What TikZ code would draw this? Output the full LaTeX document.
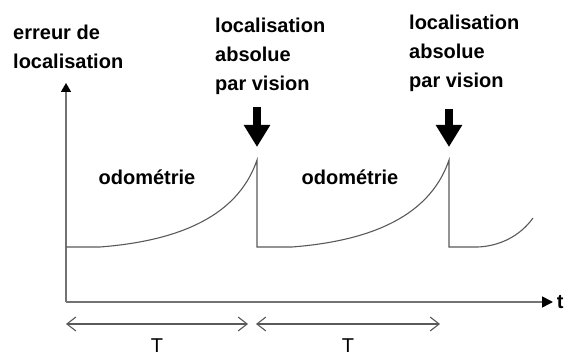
\documentclass[tikz,border=0pt]{standalone}
\usepackage{fontspec}
\setmainfont{Liberation Sans}
\usetikzlibrary{arrows.meta}

\begin{document}
\begin{tikzpicture}[x=1pt,y=1pt,
	axe/.style={draw=black!55,line width=1.6pt},
	courbe/.style={draw=black!65,line width=1.1pt},
	etiquette/.style={font=\fontsize{20}{29}\selectfont\bfseries,inner sep=0pt,align=left},
	fleche/.style={line width=8pt,-{Triangle[width=25pt,length=22pt]}},
	duree/.style={draw=black!65,line width=1.1pt,{Straight Barb[length=9pt,width=14pt]}-{Straight Barb[length=9pt,width=14pt]}}]
	\useasboundingbox (0,0) rectangle (565,356);
	\def\base{109} % niveau apres recalage
	\coordinate (O) at (66,54);
	\coordinate (p1) at (257,196);
	\coordinate (p2) at (449,196);
	\coordinate (a1) at (257,249);
	\coordinate (a2) at (449,247);
	% axes
	\draw[axe,-{Triangle[length=9pt,width=10pt,color=black]}] (O) -- (66,273);
	\draw[axe,-{Triangle[length=11pt,width=11pt,color=black]}] (O) -- (553,54) node[etiquette,right=3pt] (t) {t};
	% erreur
	\draw[courbe] (66,\base) -- (100,\base) .. controls (190,116) and (240,146) .. (p1) -- (257,\base)
		-- (292,\base) .. controls (382,116) and (432,146) .. (p2) -- (449,\base)
		-- (478,\base) .. controls (500,110) and (520,120) .. (533,138);
	\node[etiquette,anchor=north west] (err) at (13,331) {erreur de\\localisation};
	\node[etiquette,anchor=north west] (v1) at (215,338) {localisation\\absolue\\par vision};
	\node[etiquette,anchor=north west] (v2) at (409,341) {localisation\\absolue\\par vision};
	\node[etiquette,anchor=base] (o1) at (147,171) {odométrie};
	\node[etiquette,anchor=base] (o2) at (350,171) {odométrie};
	\draw[fleche] (a1) -- ([yshift=13pt]p1);
	\draw[fleche] (a2) -- ([yshift=13pt]p2);
	% periodes
	\coordinate (d0) at (66,32);
	\coordinate (d1) at (248,32);
	\coordinate (d2) at (256,32);
	\coordinate (d3) at (440,32);
	\draw[duree] (d0) -- node[below=11pt,font=\fontsize{20}{24}\selectfont] (T1) {T} (d1);
	\draw[duree] (d2) -- node[below=11pt,font=\fontsize{20}{24}\selectfont] (T2) {T} (d3);
\end{tikzpicture}
\end{document}
